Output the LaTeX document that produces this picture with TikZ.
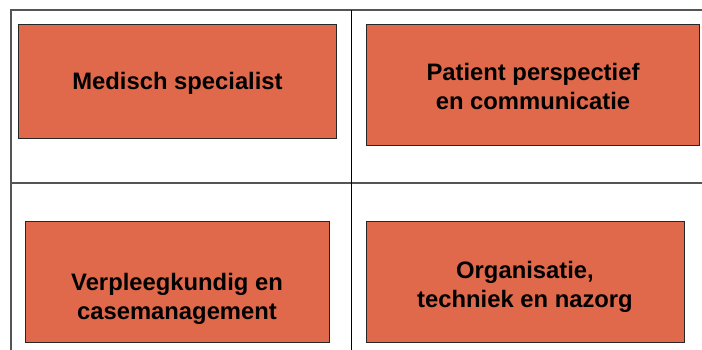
\documentclass[tikz,border=0pt]{standalone}
\usepackage{fontspec}
\setmainfont{Liberation Sans}
\definecolor{boxfill}{HTML}{E0694C}
\definecolor{framegray}{HTML}{555555}
\begin{document}
\begin{tikzpicture}[x=1pt,y=-1pt,
  card/.style={draw=black!85,line width=0.9pt,fill=boxfill,inner sep=0pt},
  cardtext/.style={inner sep=0pt,font=\fontsize{23.8}{29}\selectfont\bfseries,align=center},
  rule/.style={draw=framegray,line width=1.2pt}]
\useasboundingbox (0,0) rectangle (702,350);
\coordinate (tl) at (11,10);
\coordinate (tr) at (702,10);
\coordinate (bl) at (11,350);
\coordinate (ml) at (11,183);
\coordinate (mr) at (702,183);
\coordinate (vt) at (351,10);
\coordinate (vb) at (351,350);
\draw[rule] (bl) -- (tl) -- (tr);
\draw[rule] (ml) -- (mr);
\draw[draw=black,line width=1pt] (vt) -- (vb);
\node[card,minimum width=318pt,minimum height=114pt] (a) at (177,81) {};
\node[card,minimum width=333pt,minimum height=121pt] (b) at (532.5,84.5) {};
\node[card,minimum width=304pt,minimum height=121pt] (c) at (177,281.5) {};
\node[card,minimum width=318pt,minimum height=121pt] (d) at (525,281.5) {};
\node[cardtext] (at) at (177.5,83.5) {Medisch specialist};
\node[cardtext] (bt) at (533,86.5) {Patient perspectief\\en communicatie};
\node[cardtext] (ct) at (177,299) {Verpleegkundig en\\casemanagement};
\node[cardtext] (dt) at (525,286.5) {Organisatie,\\techniek en nazorg};
\end{tikzpicture}
\end{document}
